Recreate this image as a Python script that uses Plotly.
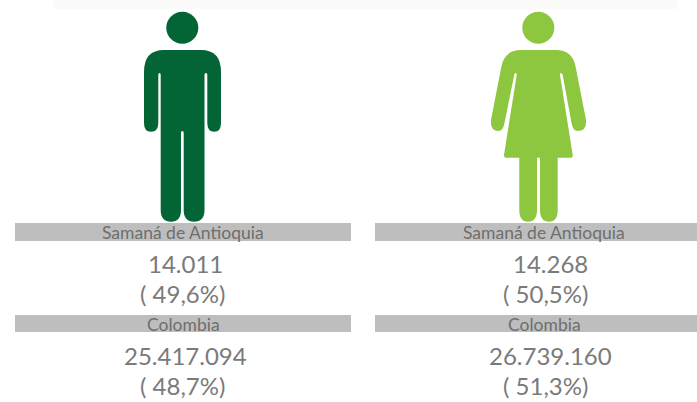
import plotly.graph_objects as go

# ---- data -------------------------------------------------------------
regions = ["Samaná de Antioquia", "Colombia"]
men_values = ["14.011", "25.417.094"]
men_shares = ["( 49,6%)", "( 48,7%)"]
women_values = ["14.268", "26.739.160"]
women_shares = ["( 50,5%)", "( 51,3%)"]

# ---- style ------------------------------------------------------------
MAN = "#036535"
WOMAN = "#8DC63F"
BAR = "#BEBEBE"
LABEL = "#6E6E6E"
NUM = "#7A7A7A"
FONT = "Lato, 'Open Sans', sans-serif"

man_body = (
    "M 164 50 L 201 50 Q 221 50 221 72 L 221 123 Q 221 131.7 214.2 131.7 "
    "Q 207.3 131.7 207.3 123 L 207.3 75 Q 207.3 73 206 73 Q 204.5 73 204.5 75 "
    "L 204.5 210 Q 204.5 221.7 194 221.7 Q 183.7 221.7 183.7 210 L 183.7 133 "
    "Q 183.7 131 182.3 131 Q 181 131 181 133 L 181 210 Q 181 221.7 171 221.7 "
    "Q 160.7 221.7 160.7 210 L 160.7 75 Q 160.7 73 159.5 73 Q 158.3 73 158.3 75 "
    "L 158.3 123 Q 158.3 131.7 151 131.7 Q 144 131.7 144 123 L 144 72 Q 144 50 164 50 Z"
)
woman_body = (
    "M 521 50 L 556 50 Q 572 50 575.5 66 L 586 120 Q 587 131 577.5 131 "
    "Q 573 131 571.5 123 L 562.7 75 Q 562 73 561 73 Q 559.8 73 560 75 "
    "L 572.7 155 Q 573 157.7 571 157.7 L 557.7 157.7 L 557.7 210 Q 557.7 221.7 549 221.7 "
    "Q 540 221.7 540 210 L 540 157.7 L 537 157.7 L 537 210 Q 537 221.7 528 221.7 "
    "Q 519.3 221.7 519.3 210 L 519.3 157.7 L 506 157.7 Q 503.7 157.7 504 155 "
    "L 516.7 75 Q 516.8 73 515.5 73 Q 514.5 73 514.2 75 L 504.5 123 "
    "Q 503 131 498.5 131 Q 490 131 491 120 L 501.5 66 Q 505 50 521 50 Z"
)

fig = go.Figure()
shapes = [
    # faint residue of a cropped heading along the top edge
    dict(type="rect", x0=53, x1=677, y0=0, y1=9, fillcolor="#FAFAF8", line_width=0, layer="below"),
    dict(type="circle", x0=166.3, x1=198.3, y0=11.7, y1=43.7, fillcolor=MAN, line_width=0),
    dict(type="path", path=man_body, fillcolor=MAN, line_width=0),
    dict(type="circle", x0=522.3, x1=554.3, y0=11.7, y1=43.7, fillcolor=WOMAN, line_width=0),
    dict(type="path", path=woman_body, fillcolor=WOMAN, line_width=0),
]
for y0, y1 in ((223, 241), (315, 332)):
    shapes.append(dict(type="rect", x0=15, x1=351, y0=y0, y1=y1, fillcolor=BAR, line_width=0))
    shapes.append(dict(type="rect", x0=375, x1=697, y0=y0, y1=y1, fillcolor=BAR, line_width=0))

annotations = []


def txt(x, y, s, size, color):
    annotations.append(dict(x=x, y=y, text=s, showarrow=False, xanchor="center", yanchor="middle",
                            font=dict(family=FONT, size=size, color=color)))


rows = ((232, 263, 293), (324, 355, 385))
for i, (ly, vy, sy) in enumerate(rows):
    txt(183, ly, regions[i], 17.5, LABEL)
    txt(185, vy, men_values[i], 24, NUM)
    txt(182, sy, men_shares[i], 24, NUM)
    txt(544, ly, regions[i], 17.5, LABEL)
    txt(550, vy, women_values[i], 24, NUM)
    txt(545, sy, women_shares[i], 24, NUM)

# An invisible trace so the cartesian axes exist for the shapes
fig.add_trace(go.Scatter(x=[0, 697], y=[0, 402], mode="markers", marker=dict(opacity=0),
                         hoverinfo="skip", showlegend=False))
fig.update_layout(
    width=697, height=402, margin=dict(l=0, r=0, t=0, b=0),
    paper_bgcolor="white", plot_bgcolor="white",
    xaxis=dict(range=[0, 697], visible=False, fixedrange=True),
    yaxis=dict(range=[402, 0], visible=False, fixedrange=True),
    shapes=shapes, annotations=annotations, showlegend=False,
)
fig.write_html("out.html", config=dict(displayModeBar=False),
               post_script="document.body.style.margin='0';document.documentElement.style.overflow='hidden';")
